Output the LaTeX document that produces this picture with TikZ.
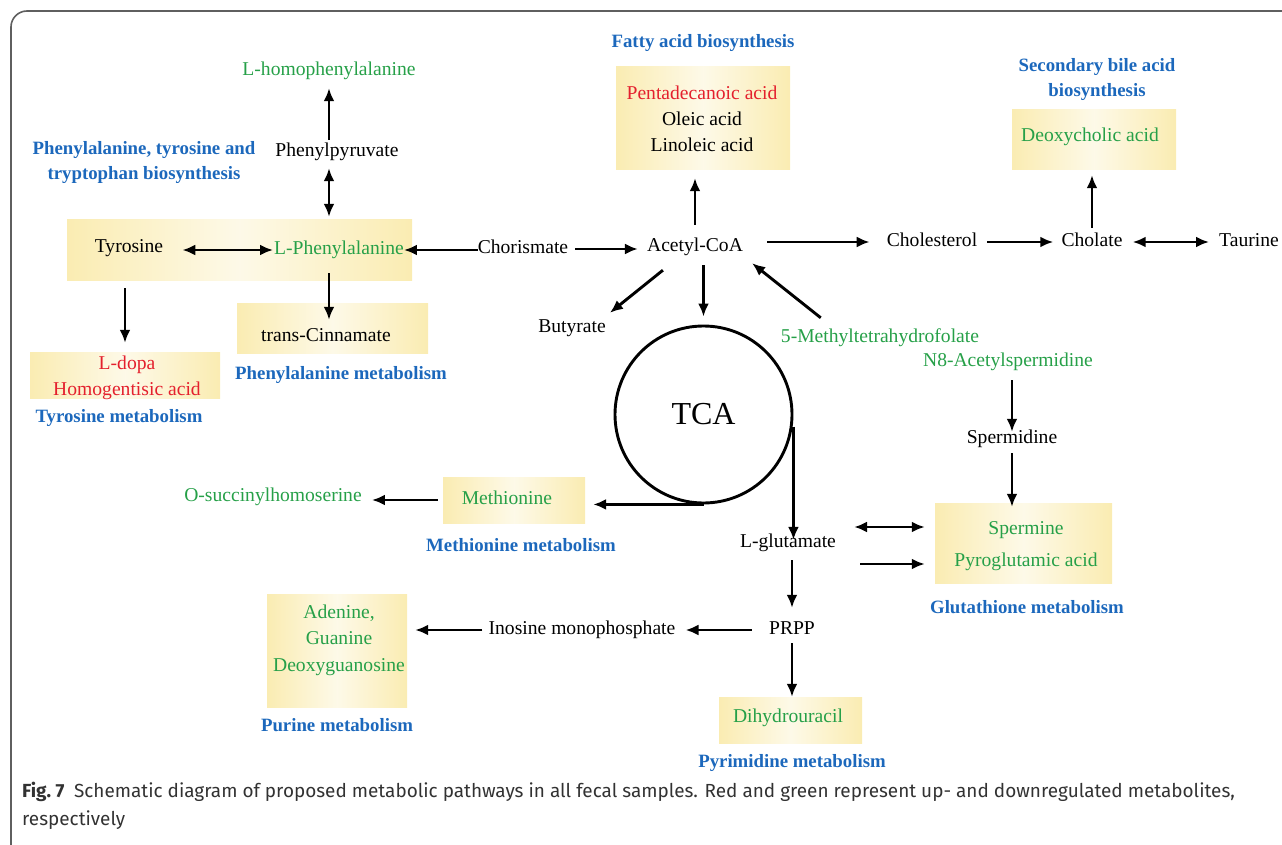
\documentclass[tikz,border=0pt]{standalone}
\usepackage{fontspec}
\setmainfont{Liberation Serif}
\newfontfamily\capfont{Fira Sans}
\usepackage{xcolor}
\usepackage{tikz}
\usetikzlibrary{positioning}
\usetikzlibrary{arrows.meta}
\definecolor{pathblue}{RGB}{28,104,188}
\definecolor{upred}{RGB}{228,32,45}
\definecolor{downgreen}{RGB}{38,160,72}
\definecolor{boxyellow}{RGB}{250,236,178}
\definecolor{framegray}{RGB}{95,95,95}
\definecolor{capgray}{RGB}{50,50,50}
\tikzset{
  metab/.style={inner sep=0pt, text height=13.5pt, text depth=4.5pt,
    font=\fontsize{19.6}{25}\selectfont}, % einzelne Metabolite
  down/.style={metab, text=downgreen}, % herunterreguliert
  up/.style={metab, text=upred},       % hochreguliert
  metablock/.style={inner sep=0pt, align=center,
    font=\fontsize{19.6}{26}\selectfont},
  pathway/.style={inner sep=0pt, align=center, text=pathblue,
    font=\fontsize{18.8}{25}\selectfont\bfseries}, % Stoffwechselwege
  ybox/.style={inner sep=0pt, left color=boxyellow, right color=boxyellow,
    middle color=boxyellow!30!white}
}

\begin{document}
\begin{tikzpicture}[x=1pt, y=-1pt,
flow/.style={line width=2.9pt,->},
>={Latex[length=13pt,width=11pt]} % Pfeilspitzen
]
\useasboundingbox (0,0) rectangle (1282,845);

%Rahmen
\draw[line width=1.6pt, draw=framegray, rounded corners=16pt]
  (1282,11) -- (11,11) -- (11,845);

%Kaesten
\node[ybox, minimum width=345pt, minimum height=60pt] (tyrbox) at (239.5,250) {};
\node[ybox, minimum width=191pt, minimum height=50pt] (cinnbox) at (332.5,328) {};
\node[ybox, minimum width=190pt, minimum height=46pt] (ldbox) at (125,375) {};
\node[ybox, minimum width=174pt, minimum height=103pt] (fabox) at (703,118.5) {};
\node[ybox, minimum width=164pt, minimum height=60pt] (dcbox) at (1094,140) {};
\node[ybox, minimum width=142pt, minimum height=46pt] (metbox) at (514,500) {};
\node[ybox, minimum width=140pt, minimum height=113pt] (adbox) at (337,650.5) {};
\node[ybox, minimum width=143pt, minimum height=46pt] (dhbox) at (790.5,720) {};
\node[ybox, minimum width=177pt, minimum height=80pt] (spbox) at (1023.5,543) {};

%Metabolite
\node[down] (lhomo) at (329,71) {L-homophenylalanine};
\node[metab] (phepyr) at (337,152) {Phenylpyruvate};
\node[metab] (tyr) at (129,248) {Tyrosine};
\node[down] (lphe) at (339,250) {L-Phenylalanine};
\node[metab] (cinn) at (326,337) {trans-Cinnamate};
\node[metablock, text=upred] (ldopa) at (127,378) {L-dopa\\Homogentisic acid};
\node[metab] (chor) at (523,249) {Chorismate};
\node[metab] (acoa) at (695,247) {Acetyl-CoA};
\node[metablock] (fatty) at (702,119) {\textcolor{upred}{Pentadecanoic acid}\\Oleic acid\\Linoleic acid};
\node[metab] (chol) at (932,242) {Cholesterol};
\node[metab] (cholate) at (1092,242) {Cholate};
\node[metab] (taur) at (1249,242) {Taurine};
\node[down] (dca) at (1090,137) {Deoxycholic acid};
\node[metab] (buty) at (572,328) {Butyrate};
\node[down] (mthf) at (880,338) {5-Methyltetrahydrofolate};
\node[down] (n8) at (1008,362) {N8-Acetylspermidine};
\node[metab] (spd) at (1012,439) {Spermidine};
\node[draw, circle, line width=2.9pt, minimum size=177pt, inner sep=0pt,
  font=\fontsize{32}{32}\selectfont] (tca) at (703.5,414.5) {TCA};
\node[down] (osh) at (273,497) {O-succinylhomoserine};
\node[down] (met) at (507,500) {Methionine};
\node[metab] (lglu) at (788,543) {L-glutamate};
\node[metablock, text=downgreen, font=\fontsize{19.6}{32}\selectfont] (spm) at (1026,546) {Spermine\\Pyroglutamic acid};
\node[metab] (prpp) at (792,630) {PRPP};
\node[metab] (imp) at (582,630) {Inosine monophosphate};
\node[metablock, text=downgreen, font=\fontsize{19.6}{26.5}\selectfont] (ade) at (339,640) {Adenine,\\Guanine\\Deoxyguanosine};
\node[down] (dhu) at (788,718) {Dihydrouracil};

%Stoffwechselwege
\node[pathway] (pttb) at (144,163) {Phenylalanine, tyrosine and\\tryptophan biosynthesis};
\node[pathway, below=13pt of cinnbox, xshift=8.5pt] (phemet) {Phenylalanine metabolism};
\node[pathway, below=11pt of ldbox, xshift=-6pt] (tyrmet) {Tyrosine metabolism};
\node[pathway, above=15pt of fabox] (fasyn) {Fatty acid biosynthesis};
\node[pathway, above=9pt of dcbox, xshift=3pt] (sbsyn) {Secondary bile acid\\biosynthesis};
\node[pathway, below=15pt of metbox, xshift=7pt] (metmet) {Methionine metabolism};
\node[pathway, below=17pt of spbox, xshift=3.5pt] (glumet) {Glutathione metabolism};
\node[pathway, below=11pt of adbox] (purmet) {Purine metabolism};
\node[pathway, below=11pt of dhbox, xshift=1.5pt] (pyrmet) {Pyrimidine metabolism};

%Pfeile
\draw[flow, shorten <=3pt, shorten >=8pt] (phepyr.north -| lhomo) -- (lhomo.south);
\draw[flow, <->, shorten <=7pt, shorten >=3pt] (phepyr.south -| lhomo) -- (lhomo |- tyrbox.north);
\draw[flow, <->, shorten <=19pt, shorten >=1pt] (tyr.east |- lphe.west) -- (lphe.west);
\draw[flow] (chor.west |- lphe.east) -- (lphe.east);
\draw[flow, shorten <=14pt, shorten >=8pt] (lphe.south -| lhomo) -- (cinn.north -| lhomo);
\draw[flow, shorten <=8pt, shorten >=9pt] (tyrbox.south -| ldbox) -- (ldbox.north);

\draw[flow, shorten <=7pt, shorten >=9pt] (chor.east) -- (acoa.west |- chor.east);
\draw[flow, shorten <=13pt, shorten >=8pt] (acoa.north) -- (acoa.north |- fabox.south);
\draw[flow, shorten <=24pt, shorten >=17pt] (acoa.east |- chol.west) -- (chol.west);
\draw[flow, shorten <=10pt, shorten >=8pt] (chol.east) -- (cholate.west);
\draw[flow, <->, shorten <=10pt, shorten >=10pt] (cholate.east) -- (taur.west);
\draw[flow, shorten <=5pt, shorten >=5pt] (cholate.north) -- (cholate.north |- dcbox.south);
\draw[flow] ([xshift=16pt,yshift=-14pt]acoa.south west) -- ([xshift=4pt,yshift=6pt]buty.north east);
\draw[flow, shorten <=9pt, shorten >=8pt] (tca.north |- acoa.south) -- (tca.north);
\draw[flow] ([xshift=40pt,yshift=11pt]mthf.north west) -- ([xshift=9pt,yshift=-7pt]acoa.south east);

\draw[flow, shorten >=8pt] (tca.south) -- (tca.south -| metbox.east);
\draw[flow, shorten <=5pt, shorten >=10pt] (metbox.west) -- (osh.east |- metbox.west);
\draw[flow, shorten >=6pt] ([yshift=-12pt]tca.east) -- ([yshift=-12pt]tca.east |- lglu.north);
\draw[flow, shorten <=8pt, shorten >=13pt] (lglu.south -| prpp) -- (prpp.north);
\draw[flow, shorten <=17pt, shorten >=10pt] (prpp.west) -- (imp.east);
\draw[flow, shorten <=6pt, shorten >=8pt] (imp.west) -- (adbox.east |- imp.west);
\draw[flow, shorten <=4pt] (prpp.south) -- (prpp.south |- dhbox.north);
\draw[flow, <->, shorten <=18pt, shorten >=10pt] ([yshift=16pt]lglu.east) -- ([yshift=16pt]lglu.east -| spbox.west);
\draw[flow, shorten <=24pt, shorten >=10pt] ([yshift=-21pt]lglu.east) -- ([yshift=-21pt]lglu.east -| spbox.west);
\draw[flow, shorten <=9pt, shorten >=-2pt] (n8.south -| spd) -- (spd.north);
\draw[flow, shorten <=5pt, shorten >=-4pt] (spd.south) -- (spd.south |- spbox.north);

%Bildunterschrift
\node[anchor=north west, inner sep=0pt, align=left, text=capgray,
  font=\capfont\fontsize{18.95}{28}\selectfont] (cap) at (22,782)
  {\textbf{Fig.~7}\hspace{0.5em}Schematic diagram of proposed metabolic pathways in all fecal samples. Red and green represent up- and downregulated metabolites,\\respectively};
\end{tikzpicture}
\end{document}
